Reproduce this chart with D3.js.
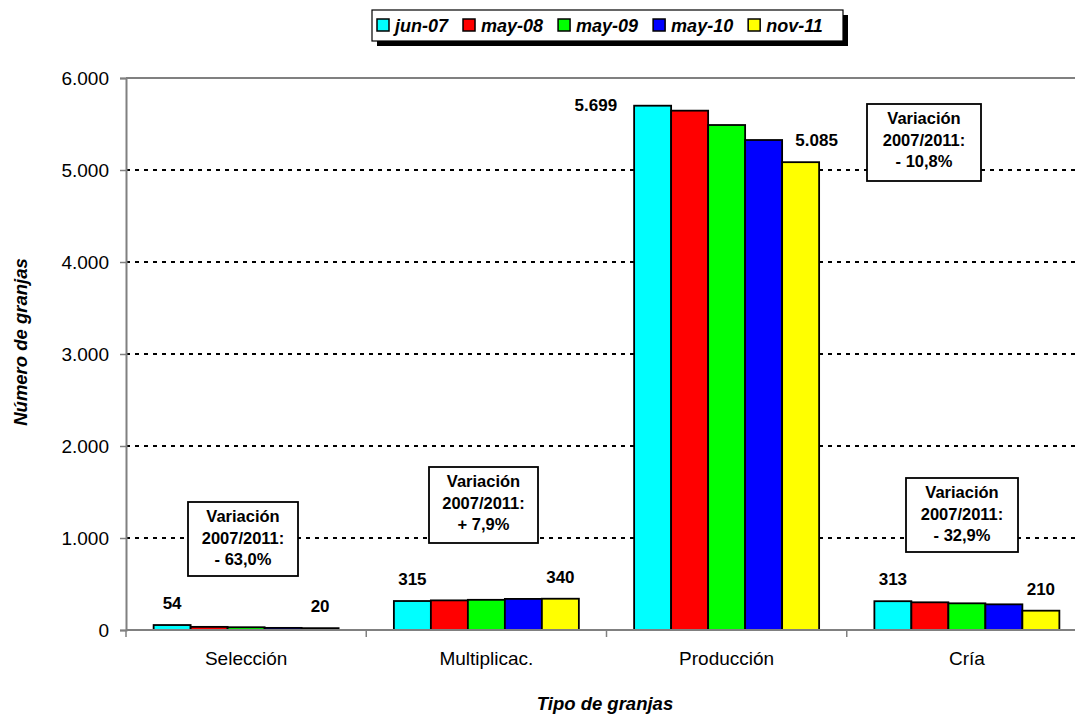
<!DOCTYPE html>
<html><head><meta charset="utf-8">
<script src="https://cdn.jsdelivr.net/npm/d3@7"></script>
<style>
html,body{margin:0;padding:0;background:#fff;}
svg{display:block;}
text{font-family:"Liberation Sans",Arial,sans-serif;}
</style></head>
<body>
<svg id="c" width="1075" height="719"></svg>
<script>
// ---- data ----
const categories = ["Selección", "Multiplicac.", "Producción", "Cría"];
const seriesNames = ["jun-07", "may-08", "may-09", "may-10", "nov-11"];
const jun07 = [54, 315, 5699, 313];
const may08 = [34, 322, 5645, 301];
const may09 = [30, 328, 5489, 290];
const may10 = [23, 338, 5326, 279];
const nov11 = [20, 340, 5085, 210];
const seriesValues = [jun07, may08, may09, may10, nov11];
const yTicks = [0, 1000, 2000, 3000, 4000, 5000, 6000];
const variationText = ["- 63,0%", "+ 7,9%", "- 10,8%", "- 32,9%"];

// ---- style / layout ----
const colors = ["#00FFFF", "#FF0000", "#00FF00", "#0000FF", "#FFFF00"];
const plot = {left: 126, right: 1087, top: 78, bottom: 630};
// annotation boxes: [x, y, w, h] in px
const boxLayout = [[188, 502, 110, 74], [429, 467, 109, 76], [867, 104, 114, 77], [906, 478, 112, 74]];

const loc = d3.formatLocale({decimal: ",", thousands: ".", grouping: [3], currency: ["", ""]});
const fmt = loc.format(",.0f");

const svg = d3.select("#c");
const x = d3.scaleBand().domain(categories).range([plot.left, plot.right]).paddingInner(0).paddingOuter(0);
const y = d3.scaleLinear().domain([0, 6000]).range([plot.bottom, plot.top]);
const bandW = x.bandwidth();
const groupPad = 0.115; // fraction of band each side
const xs = d3.scaleBand().domain(seriesNames).range([bandW * groupPad, bandW * (1 - groupPad)]).padding(0);

// gridlines
svg.append("g").selectAll("line").data(yTicks.filter(t => t > 0 && t < 6000)).join("line")
  .attr("x1", plot.left).attr("x2", plot.right)
  .attr("y1", d => y(d)).attr("y2", d => y(d))
  .attr("stroke", "#000").attr("stroke-width", 1.8).attr("stroke-dasharray", "4,5");
// top border
svg.append("line").attr("x1", plot.left).attr("x2", plot.right).attr("y1", y(6000)).attr("y2", y(6000))
  .attr("stroke", "#808080").attr("stroke-width", 2);

// bars
const groups = svg.append("g").selectAll("g").data(categories).join("g")
  .attr("transform", d => `translate(${x(d)},0)`);
groups.selectAll("rect").data((c, ci) => seriesNames.map((s, si) => ({s, si, v: seriesValues[si][ci]})))
  .join("rect")
  .attr("x", d => xs(d.s)).attr("width", xs.bandwidth())
  .attr("y", d => y(d.v)).attr("height", d => y(0) - y(d.v))
  .attr("fill", d => colors[d.si]).attr("stroke", "#000").attr("stroke-width", 1.8);

// axes
const yAxis = d3.axisLeft(y).tickValues(yTicks).tickFormat(d => fmt(d)).tickSize(6).tickPadding(11);
const gy = svg.append("g").attr("transform", `translate(${plot.left},0)`).call(yAxis);
gy.select(".domain").attr("stroke", "#808080").attr("stroke-width", 2);
gy.selectAll(".tick line").attr("stroke", "#808080").attr("stroke-width", 1.5);
gy.selectAll(".tick text").attr("font-size", 19).attr("fill", "#000").attr("font-family", "Liberation Sans, Arial, sans-serif");

const gx = svg.append("g").attr("transform", `translate(0,${plot.bottom})`);
gx.append("line").attr("x1", plot.left).attr("x2", plot.right).attr("y1", 0).attr("y2", 0)
  .attr("stroke", "#808080").attr("stroke-width", 2);
gx.selectAll("line.t").data(categories.concat(["end"])).join("line").attr("class", "t")
  .attr("x1", (d, i) => plot.left + i * bandW).attr("x2", (d, i) => plot.left + i * bandW)
  .attr("y1", 0).attr("y2", 7).attr("stroke", "#808080").attr("stroke-width", 1.5);
gx.selectAll("text").data(categories).join("text")
  .attr("x", d => x(d) + bandW / 2).attr("y", 35)
  .attr("text-anchor", "middle").attr("font-size", 19).attr("fill", "#000").text(d => d);

// data labels (first and last series)
const labelOffsets = {"Producción-0": [-36, 5], "Producción-4": [16, 0]};
categories.forEach((c, ci) => {
  [0, 4].forEach(si => {
    const v = seriesValues[si][ci];
    const off = labelOffsets[c + "-" + si];
    let cx = x(c) + xs(seriesNames[si]) + xs.bandwidth() / 2;
    let by = y(v) - 16;
    let anchor = "middle";
    if (off && si === 0) { cx = x(c) + xs(seriesNames[si]) + off[0] + 19; by = y(v) + off[1]; anchor = "end"; }
    else if (off) { cx += off[0]; by += off[1]; }
    svg.append("text").attr("x", cx).attr("y", by).attr("text-anchor", anchor)
      .attr("font-size", 17).attr("font-weight", "bold").attr("fill", "#000").text(fmt(v));
  });
});

// variation boxes
variationText.forEach((t, i) => {
  const [bx, by, bw, bh] = boxLayout[i];
  const g = svg.append("g");
  g.append("rect").attr("x", bx).attr("y", by).attr("width", bw).attr("height", bh)
    .attr("fill", "#fff").attr("stroke", "#000").attr("stroke-width", 1.8);
  ["Variación", "2007/2011:", t].forEach((line, li) => {
    g.append("text").attr("x", bx + bw / 2).attr("y", by + 20 + li * 21.5)
      .attr("text-anchor", "middle").attr("font-size", 16.5).attr("font-weight", "bold").text(line);
  });
});

// axis titles
svg.append("text").attr("x", 605).attr("y", 710).attr("text-anchor", "middle")
  .attr("font-size", 18.5).attr("font-weight", "bold").attr("font-style", "italic").text("Tipo de granjas");
svg.append("text").attr("transform", "translate(27,342) rotate(-90)").attr("text-anchor", "middle")
  .attr("font-size", 18.5).attr("font-weight", "bold").attr("font-style", "italic").text("Número de granjas");

// legend
const lg = svg.append("g");
const lx = 372, ly = 10, lw = 471, lh = 31;
lg.append("rect").attr("x", lx + 5).attr("y", ly + 5).attr("width", lw).attr("height", lh).attr("fill", "#000");
lg.append("rect").attr("x", lx).attr("y", ly).attr("width", lw).attr("height", lh)
  .attr("fill", "#fff").attr("stroke", "#000").attr("stroke-width", 1.2);
let cursor = lx + 5;
seriesNames.forEach((s, i) => {
  lg.append("rect").attr("x", cursor).attr("y", ly + 9).attr("width", 12).attr("height", 12)
    .attr("fill", colors[i]).attr("stroke", "#000").attr("stroke-width", 1.5);
  const tx = lg.append("text").attr("x", cursor + 18).attr("y", ly + 22)
    .attr("font-size", 18).attr("font-weight", "bold").attr("font-style", "italic").text(s);
  cursor += 18 + tx.node().getComputedTextLength() + 15;
});
</script>
</body></html>
